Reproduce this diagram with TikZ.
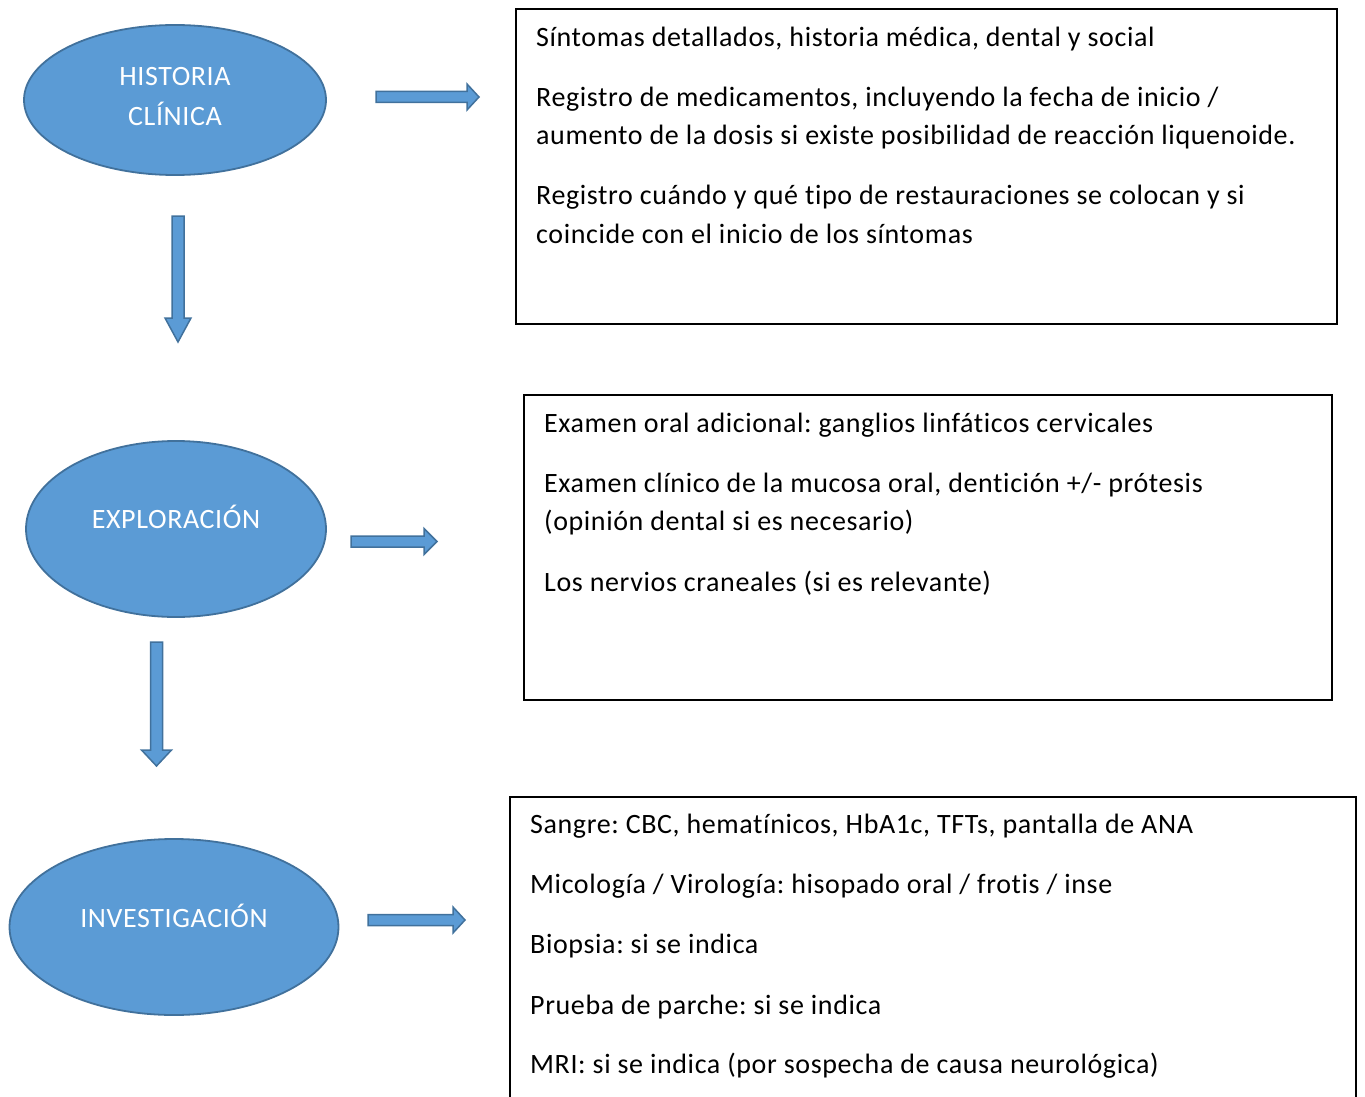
\documentclass[tikz,border=0pt]{standalone}
\usepackage{fontspec}
\setmainfont[Ligatures=NoCommon,LetterSpace=2.2]{Carlito}
\usetikzlibrary{shapes.geometric}
\definecolor{ofill}{HTML}{5B9BD5}
\definecolor{oline}{HTML}{41719C}
\tikzset{
  oval/.style={ellipse, draw=oline, fill=ofill, line width=1.8pt, inner sep=0pt},
  ovaltext/.style={anchor=base, text=white, inner sep=0pt, font=\fontsize{28}{39}\selectfont},
  txtbox/.style={draw=black, line width=1.1pt},
  line/.style={anchor=base west, inner sep=0pt, font=\fontsize{28}{39}\selectfont},
  blockarrow/.style={draw=oline, fill=ofill, line width=1.5pt, line join=miter}
}
% horizontal block arrow: name, x1, headstart, tip, y, half shaft, half head
\newcommand{\myharrow}[7]{%
  \draw[blockarrow] (#2,#5-#6) -- (#3,#5-#6) -- (#3,#5-#7) -- (#4,#5) -- (#3,#5+#7)
     -- (#3,#5+#6) -- (#2,#5+#6) -- cycle;
  \coordinate (#1) at (#4,#5);}
\newcommand{\myvarrow}[7]{%
  \draw[blockarrow] (#5-#6,#2) -- (#5-#6,#3) -- (#5-#7,#3) -- (#5,#4) -- (#5+#7,#3)
     -- (#5+#6,#3) -- (#5+#6,#2) -- cycle;
  \coordinate (#1) at (#5,#4);}
\frenchspacing
\begin{document}
\begin{tikzpicture}[x=1pt,y=-1pt]
\useasboundingbox (0,0) rectangle (1365,1097);
% ellipses
\node[oval, minimum width=302, minimum height=150] (hc) at (175,100) {};
\node[ovaltext] (hc1) at (175,86) {HISTORIA};
\node[ovaltext] (hc2) at (175,125) {CLÍNICA};
\node[oval, minimum width=300, minimum height=176] (ex) at (176,529) {};
\node[ovaltext] (ex1) at (176,528) {EXPLORACIÓN};
\node[oval, minimum width=329, minimum height=176] (inv) at (174,927) {};
\node[ovaltext] (inv1) at (174,927) {INVESTIGACIÓN};
% arrows
\myharrow{a1}{376}{467}{479}{97}{5.5}{13}
\myharrow{a2}{351}{424}{437}{541.5}{5.5}{13}
\myharrow{a3}{368}{453}{465}{920}{5.5}{13}
\myvarrow{d1}{216}{318}{342}{178}{6}{13}
\myvarrow{d2}{642}{750}{766}{156.5}{6}{15}
% boxes
\draw[txtbox] (516,9) rectangle (1337,324);
\draw[txtbox] (524,395) rectangle (1332,700);
\draw[txtbox] (510,1110) -- (510,797) -- (1356,797) -- (1356,1110);
% box 1 text
\node[line] (t11) at (536,46.5) {Síntomas detallados, historia médica, dental y social};
\node[line] (t12) at (536,106.5) {Registro de medicamentos, incluyendo la fecha de inicio /};
\node[line] (t13) at (536,144.5) {aumento de la dosis si existe posibilidad de reacción liquenoide.};
\node[line] (t14) at (536,204.5) {Registro cuándo y qué tipo de restauraciones se colocan y si};
\node[line] (t15) at (536,243.5) {coincide con el inicio de los síntomas};
% box 2 text
\node[line] (t21) at (544,432.5) {Examen oral adicional: ganglios linfáticos cervicales};
\node[line] (t22) at (544,492.5) {Examen clínico de la mucosa oral, dentición +/- prótesis};
\node[line] (t23) at (544,530.5) {(opinión dental si es necesario)};
\node[line] (t24) at (544,591.5) {Los nervios craneales (si es relevante)};
% box 3 text
\node[line] (t31) at (530,833.5) {Sangre: CBC, hematínicos, HbA1c, TFTs, pantalla de ANA};
\node[line] (t32) at (530,893.5) {Micología / Virología: hisopado oral / frotis / inse};
\node[line] (t33) at (530,953.5) {Biopsia: si se indica};
\node[line] (t34) at (530,1014.5) {Prueba de parche: si se indica};
\node[line] (t35) at (530,1073.5) {MRI: si se indica (por sospecha de causa neurológica)};
\end{tikzpicture}
\end{document}
